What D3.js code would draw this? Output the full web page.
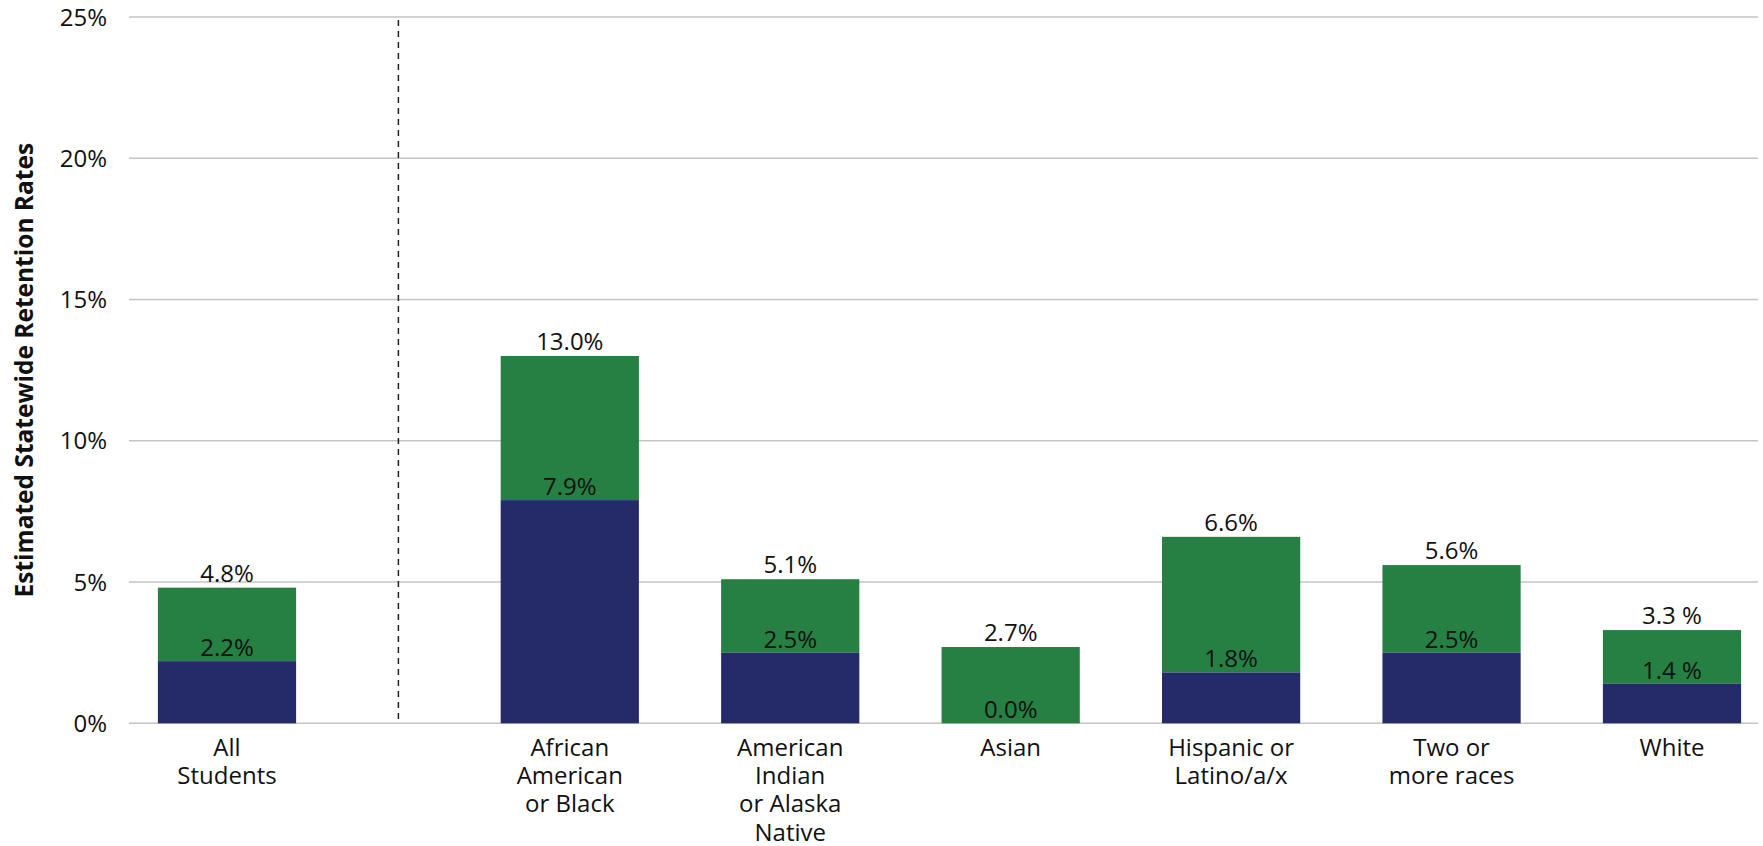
<!DOCTYPE html>
<html>
<head>
<meta charset="utf-8">
<script src="https://cdn.jsdelivr.net/npm/d3@7"></script>
<style>
  html, body { margin: 0; padding: 0; background: #ffffff; }
  svg { display: block; }
  text { font-family: "Open Sans", "DejaVu Sans", sans-serif; fill: #111111; }
</style>
</head>
<body>
<svg id="chart" width="1763" height="846"></svg>
<script>
// ---- Data ----
const categories = [
  "All Students",
  "African American or Black",
  "American Indian or Alaska Native",
  "Asian",
  "Hispanic or Latino/a/x",
  "Two or more races",
  "White"
];
const categoryLines = [
  ["All", "Students"],
  ["African", "American", "or Black"],
  ["American", "Indian", "or Alaska", "Native"],
  ["Asian"],
  ["Hispanic or", "Latino/a/x"],
  ["Two or", "more races"],
  ["White"]
];
const lowerValues = [2.2, 7.9, 2.5, 0.0, 1.8, 2.5, 1.4];   // navy segment
const totalValues = [4.8, 13.0, 5.1, 2.7, 6.6, 5.6, 3.3];  // top of green segment
const lowerLabels = ["2.2%", "7.9%", "2.5%", "0.0%", "1.8%", "2.5%", "1.4 %"];
const totalLabels = ["4.8%", "13.0%", "5.1%", "2.7%", "6.6%", "5.6%", "3.3 %"];
const yTicks = [0, 5, 10, 15, 20, 25];
const yTickLabels = ["0%", "5%", "10%", "15%", "20%", "25%"];
const yTitle = "Estimated Statewide Retention Rates";

// ---- Layout ----
const svg = d3.select("#chart");
const plotLeft = 129, plotRight = 1758, plotTop = 17, plotBottom = 723.3;
const colorLower = "#252a69", colorUpper = "#267f43";

const y = d3.scaleLinear().domain([0, 25]).range([plotBottom, plotTop]);

// slot position: All Students is separated from the groups by a wider gap
const groupGap = 1.555;
const slots = categories.map((c, i) => i === 0 ? 0 : groupGap + (i - 1));
const x = d3.scaleLinear().domain([0, groupGap + 5]).range([227, 1672]);
const slotWidth = x(1) - x(0);
const barW = slotWidth * 0.627;

// gridlines
svg.append("g").selectAll("line").data(yTicks).join("line")
  .attr("x1", plotLeft).attr("x2", plotRight)
  .attr("y1", d => y(d)).attr("y2", d => y(d))
  .attr("stroke", "#c4c4c4").attr("stroke-width", 1.6);

// y tick labels
svg.append("g").selectAll("text").data(yTicks).join("text")
  .attr("x", 107).attr("y", d => y(d))
  .attr("dy", "0.36em")
  .attr("text-anchor", "end")
  .style("font-size", "24px")
  .text((d, i) => yTickLabels[i]);

// y axis title
svg.append("text")
  .attr("transform", `translate(33,${(plotTop + plotBottom) / 2}) rotate(-90)`)
  .attr("text-anchor", "middle")
  .style("font-size", "24.5px")
  .style("font-weight", "700")
  .text(yTitle);

// dashed separator
const sepX = (x(0) + x(groupGap)) / 2;
svg.append("line")
  .attr("x1", sepX).attr("x2", sepX)
  .attr("y1", 20).attr("y2", plotBottom)
  .attr("stroke", "#222").attr("stroke-width", 1.5)
  .attr("stroke-dasharray", "6,5");

const bars = svg.append("g");
categories.forEach((c, i) => {
  const cx = x(slots[i]);
  // green (upper) segment
  bars.append("rect")
    .attr("x", cx - barW / 2).attr("width", barW)
    .attr("y", y(totalValues[i]))
    .attr("height", y(lowerValues[i]) - y(totalValues[i]))
    .attr("fill", colorUpper);
  // navy (lower) segment
  bars.append("rect")
    .attr("x", cx - barW / 2).attr("width", barW)
    .attr("y", y(lowerValues[i]))
    .attr("height", y(0) - y(lowerValues[i]))
    .attr("fill", colorLower);
  // labels
  bars.append("text")
    .attr("x", cx).attr("y", y(totalValues[i]) - 6)
    .attr("text-anchor", "middle")
    .style("font-size", "24px")
    .text(totalLabels[i]);
  bars.append("text")
    .attr("x", cx).attr("y", y(lowerValues[i]) - 5)
    .attr("text-anchor", "middle")
    .style("font-size", "24px")
    .text(lowerLabels[i]);
  // category label
  const t = bars.append("text")
    .attr("text-anchor", "middle")
    .style("font-size", "24px");
  categoryLines[i].forEach((ln, k) => {
    t.append("tspan").attr("x", cx).attr("y", 756 + k * 28.2).text(ln);
  });
});
</script>
</body>
</html>
